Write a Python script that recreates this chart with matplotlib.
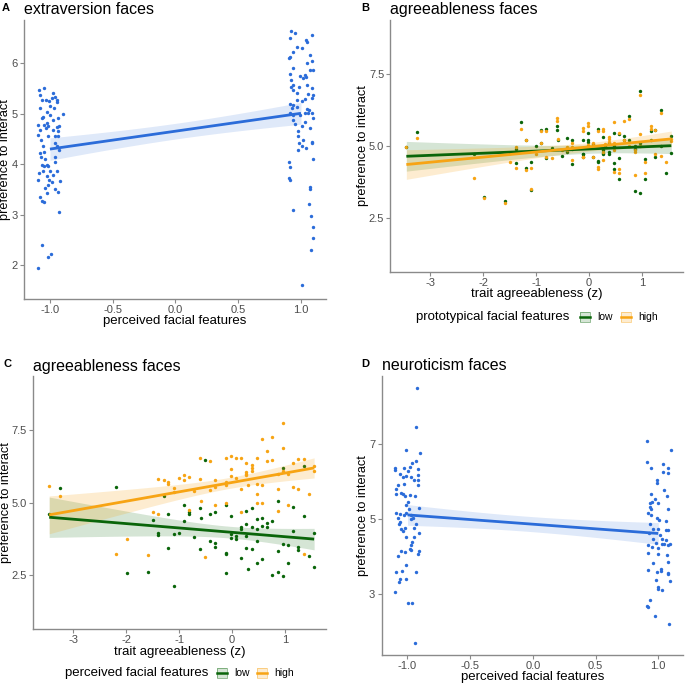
import numpy as np
import matplotlib.pyplot as plt
from matplotlib.patches import Rectangle
from matplotlib.lines import Line2D

plt.rcParams['font.family'] = ['Liberation Sans', 'DejaVu Sans']
plt.rcParams['axes.unicode_minus'] = False

BLUE = '#2b6cd9'
GREEN = '#0a650a'
ORANGE = '#f7a414'
AXC = '#8a8a8a'
TICKC = '#4d4d4d'

# ---- panel A: extraversion faces (x jittered around -1 / +1) ----
a_lo_x = [-1.085, -1.045, -0.973, -1.077, -0.981, -0.960, -0.947, -1.066, -1.035, -1.005,
          -1.000, -0.942, -1.080, -1.021, -0.968, -0.899, -1.053, -1.000, -1.066, -1.027,
          -0.973, -0.934, -1.093, -1.048, -1.013, -0.947, -0.928, -1.080, -1.032, -0.973,
          -0.934, -1.093, -1.072, -1.013, -0.960, -0.934, -1.053, -0.960, -1.080, -1.045,
          -0.947, -0.926, -1.069, -0.960, -1.040, -1.066, -1.027, -1.013, -1.048, -0.960,
          -1.085, -1.053, -1.000, -0.973, -0.942, -1.021, -1.093, -1.005, -0.987, -1.013,
          -0.920, -1.040, -0.960, -0.934, -1.027, -1.080, -1.066, -1.048, -0.926, -1.066,
          -0.995, -1.019, -1.093]
a_lo_y = [5.47, 5.50, 5.41, 5.37, 5.30, 5.32, 5.27, 5.27, 5.27, 5.24,
          5.15, 5.23, 5.10, 5.04, 5.10, 5.00, 4.94, 4.97, 4.91, 4.81,
          4.88, 4.91, 4.78, 4.78, 4.76, 4.74, 4.76, 4.68, 4.71, 4.68,
          4.65, 4.58, 4.48, 4.55, 4.55, 4.55, 4.35, 4.41, 4.22, 4.25,
          4.35, 4.28, 4.15, 4.15, 4.10, 3.99, 3.99, 3.96, 3.96, 4.05,
          3.82, 3.86, 3.86, 3.79, 3.86, 3.76, 3.69, 3.69, 3.64, 3.59,
          3.66, 3.53, 3.51, 3.46, 3.44, 3.36, 3.28, 3.26, 3.05, 2.40,
          2.23, 2.17, 1.95]
a_hi_x = [0.918, 0.952, 1.085, 0.912, 1.040, 1.050, 0.971, 1.005, 0.939, 0.912,
          0.907, 1.072, 1.085, 1.045, 0.939, 1.072, 1.093, 1.032, 0.912, 0.992,
          1.013, 0.918, 1.040, 0.939, 1.045, 0.918, 0.987, 1.085, 0.939, 0.965,
          1.058, 1.098, 0.971, 1.032, 1.005, 0.912, 0.939, 1.085, 0.965, 0.926,
          1.045, 1.064, 0.912, 0.939, 0.992, 1.032, 1.058, 1.085, 1.098, 0.934,
          0.952, 1.032, 1.005, 1.072, 0.973, 0.979, 1.085, 1.019, 0.987, 0.973,
          1.005, 1.085, 1.037, 1.093, 0.907, 0.912, 0.907, 0.912, 1.072, 1.072,
          0.934, 1.066, 1.080, 1.093, 1.093, 1.077, 1.008]
a_hi_y = [6.62, 6.59, 6.55, 6.49, 6.45, 6.42, 6.32, 6.29, 6.22, 6.12,
          6.09, 6.16, 6.03, 5.99, 5.90, 5.85, 5.86, 5.76, 5.78, 5.74,
          5.70, 5.66, 5.72, 5.57, 5.57, 5.52, 5.53, 5.50, 5.47, 5.40,
          5.38, 5.37, 5.27, 5.28, 5.24, 5.19, 5.17, 5.30, 5.13, 5.11,
          5.09, 5.07, 5.02, 4.97, 4.97, 5.02, 5.01, 5.01, 4.91, 4.88,
          4.80, 4.84, 4.76, 4.71, 4.65, 4.56, 4.43, 4.48, 4.42, 4.28,
          4.35, 4.41, 4.32, 4.10, 4.05, 3.95, 3.72, 3.69, 3.55, 3.51,
          3.10, 3.22, 2.98, 2.75, 2.54, 2.31, 1.61]

# ---- panels B and C: same participants (trait agreeableness z) ----
trait_z = [-3.45, -3.25, -2.18, -1.98, -1.59, -1.49, -1.39, -1.39, -1.29, -1.20,
           -1.20, -1.10, -1.10, -1.00, -0.90, -0.90, -0.82, -0.82, -0.71, -0.61,
           -0.61, -0.58, -0.51, -0.41, -0.41, -0.32, -0.32, -0.32, -0.12, -0.12,
           -0.12, -0.12, -0.02, -0.02, -0.02, 0.07, 0.07, 0.17, 0.17, 0.17,
           0.27, 0.27, 0.27, 0.27, 0.30, 0.37, 0.37, 0.37, 0.47, 0.47,
           0.47, 0.47, 0.57, 0.57, 0.57, 0.66, 0.66, 0.76, 0.76, 0.86,
           0.86, 0.86, 0.96, 0.96, 0.96, 1.06, 1.06, 1.16, 1.16, 1.25,
           1.25, 1.35, 1.35, 1.45, 1.55, 1.55]
b_low = [4.97, 5.47, 4.70, 3.22, 3.09, 4.75, 4.41, 4.90, 5.83, 5.22,
         4.22, 4.44, 3.46, 4.98, 5.56, 5.10, 5.60, 4.58, 4.93, 5.68,
         5.56, 5.20, 4.66, 5.27, 4.80, 5.19, 4.37, 4.90, 5.20, 4.73,
         4.60, 4.73, 5.44, 5.22, 5.15, 4.60, 5.05, 5.59, 4.47, 4.45,
         5.30, 4.86, 4.75, 4.70, 5.00, 4.78, 5.10, 4.72, 5.46, 4.42,
         4.20, 5.00, 5.40, 4.57, 3.86, 5.35, 5.20, 6.02, 5.20, 4.98,
         4.90, 3.43, 6.89, 5.10, 3.35, 4.55, 3.86, 5.22, 5.50, 4.60,
         5.55, 6.25, 4.98, 4.05, 5.35, 4.75]
b_high = [4.95, 5.27, 3.87, 3.17, 3.02, 4.45, 4.23, 4.96, 5.60, 5.22,
          4.17, 4.24, 3.50, 4.73, 5.50, 5.10, 5.50, 4.60, 4.57, 5.97,
          5.87, 5.24, 4.87, 4.95, 4.85, 5.10, 4.52, 4.95, 5.62, 5.53,
          4.60, 4.60, 5.79, 5.70, 5.03, 4.62, 5.10, 5.53, 4.25, 4.20,
          5.58, 5.52, 4.50, 4.80, 5.05, 5.30, 5.25, 5.15, 5.83, 4.85,
          4.10, 5.10, 5.45, 4.05, 4.20, 5.85, 5.20, 5.95, 5.00, 4.85,
          4.00, 4.80, 6.78, 5.40, 5.00, 4.45, 4.05, 5.68, 5.58, 4.70,
          5.55, 6.15, 4.65, 4.43, 5.25, 5.17]
c_low = [4.59, 5.51, 5.54, 2.57, 2.59, 4.38, 3.89, 3.95, 5.24, 4.60,
         3.41, 3.92, 2.12, 3.95, 4.93, 4.35, 4.68, 4.60, 3.79, 4.80,
         3.40, 4.45, 6.47, 4.59, 3.68, 4.66, 3.60, 3.45, 4.90, 3.26,
         3.20, 2.57, 4.54, 3.92, 3.77, 3.84, 3.73, 4.14, 3.07, 4.10,
         4.70, 4.26, 3.84, 3.42, 2.70, 4.80, 4.14, 3.38, 4.44, 4.10,
         3.65, 2.90, 4.46, 3.05, 4.20, 4.28, 4.14, 4.36, 2.50, 5.05,
         3.32, 2.58, 6.19, 3.55, 2.45, 3.52, 2.92, 4.83, 4.02, 3.45,
         3.36, 6.27, 4.53, 3.16, 3.96, 2.77]
c_high = [5.58, 5.22, 3.23, 3.73, 3.19, 4.68, 4.60, 5.82, 5.77, 5.70,
          5.65, 5.52, 5.35, 5.85, 5.96, 5.77, 5.87, 4.75, 5.40, 6.54,
          5.82, 5.05, 3.11, 6.45, 5.43, 5.78, 5.55, 4.92, 6.54, 5.70,
          5.60, 4.98, 6.63, 6.16, 5.93, 6.54, 5.85, 6.56, 5.47, 4.68,
          6.36, 6.07, 6.00, 5.95, 5.60, 6.30, 6.20, 6.10, 6.54, 5.66,
          5.00, 5.30, 7.21, 5.60, 4.98, 6.77, 6.45, 7.26, 6.47, 6.00,
          5.47, 4.70, 7.75, 6.88, 6.10, 4.90, 6.00, 6.36, 5.55, 6.50,
          5.48, 6.52, 3.22, 5.31, 6.27, 6.09]

# ---- panel D: neuroticism faces ----
d_lo_x = [-0.928, -0.934, -1.013, -0.902, -0.934, -0.963, -1.101, -1.027, -0.981, -0.920,
          -1.101, -1.061, -0.995, -1.035, -1.013, -0.973, -0.915, -0.947, -0.915, -1.074,
          -1.027, -0.915, -1.088, -1.048, -1.035, -1.093, -0.981, -1.016, -0.941, -0.995,
          -1.008, -0.987, -0.910, -1.088, -1.061, -1.027, -1.008, -0.973, -1.074, -0.955,
          -1.056, -0.973, -1.069, -0.934, -1.021, -1.048, -1.035, -0.947, -0.910, -0.968,
          -0.976, -0.981, -1.008, -0.949, -1.048, -1.021, -0.973, -0.907, -0.920, -1.074,
          -1.008, -1.088, -1.040, -0.936, -1.061, -1.008, -1.066, -1.096, -0.995, -0.963,
          -0.941]
d_lo_y = [8.50, 7.47, 6.85, 6.78, 6.56, 6.51, 6.38, 6.36, 6.40, 6.33,
          6.31, 6.20, 6.29, 6.13, 6.15, 6.13, 6.18, 6.04, 6.06, 5.91,
          5.94, 5.91, 5.82, 5.70, 5.68, 5.68, 5.64, 5.61, 5.61, 5.46,
          5.37, 5.28, 5.31, 5.17, 5.15, 5.10, 5.17, 5.10, 5.02, 5.02,
          4.93, 5.00, 4.88, 4.88, 4.77, 4.74, 4.68, 4.76, 4.63, 4.39,
          4.30, 4.21, 4.52, 4.52, 4.15, 4.12, 4.17, 4.15, 4.08, 4.01,
          3.77, 3.59, 3.62, 3.59, 3.41, 3.41, 3.32, 3.06, 2.76, 2.76,
          1.68]
d_hi_x = [0.907, 1.098, 0.912, 1.040, 1.080, 0.939, 1.040, 1.080, 0.987, 0.987,
          1.045, 0.941, 1.072, 0.973, 0.934, 0.952, 1.000, 0.934, 0.941, 1.080,
          0.915, 0.939, 0.987, 1.005, 1.059, 0.934, 0.995, 0.960, 1.061, 1.074,
          0.926, 1.013, 1.032, 0.960, 1.059, 0.979, 1.027, 1.048, 1.080, 1.093,
          0.915, 0.952, 1.000, 0.920, 0.995, 1.066, 1.080, 0.960, 0.915, 0.987,
          1.021, 1.021, 1.074, 1.080, 1.093, 0.979, 1.000, 1.000, 1.032, 0.934,
          0.907, 0.920, 0.973, 1.085]
d_hi_y = [7.09, 6.86, 6.53, 6.47, 6.36, 6.38, 6.26, 6.24, 6.06, 5.97,
          5.79, 5.67, 5.63, 5.53, 5.44, 5.45, 5.44, 5.33, 5.26, 5.28,
          5.17, 5.10, 5.02, 4.97, 4.95, 4.86, 4.74, 4.73, 4.72, 4.71,
          4.63, 4.58, 4.47, 4.48, 4.45, 4.37, 4.35, 4.33, 4.31, 4.33,
          4.30, 4.25, 4.24, 4.10, 4.08, 4.03, 3.85, 3.84, 3.64, 3.59,
          3.68, 3.61, 3.56, 3.54, 3.35, 3.38, 3.19, 3.13, 3.10, 2.84,
          2.69, 2.66, 2.42, 2.21]


def lm_band(x, y, xs, t=1.98):
    x = np.asarray(x, float)
    y = np.asarray(y, float)
    n = len(x)
    b1, b0 = np.polyfit(x, y, 1)
    s2 = np.sum((y - (b0 + b1 * x)) ** 2) / (n - 2)
    xbar = x.mean()
    sxx = np.sum((x - xbar) ** 2)
    fit = b0 + b1 * xs
    se = np.sqrt(s2 * (1.0 / n + (xs - xbar) ** 2 / sxx))
    return fit, fit - t * se, fit + t * se


def style(ax):
    for s in ['top', 'right']:
        ax.spines[s].set_visible(False)
    for s in ['left', 'bottom']:
        ax.spines[s].set_color(AXC)
        ax.spines[s].set_linewidth(1.0)
    ax.tick_params(colors=AXC, labelcolor=TICKC, labelsize=8, length=3, width=0.8, pad=1.5)
    ax.set_ylabel('preference to interact', fontsize=9.2, labelpad=0)


def smooth(ax, x, y, color, alpha, group=None):
    xs = np.linspace(min(x), max(x), 100) if group is None else np.linspace(-1, 1, 100)
    xf = x if group is None else group
    fit, lo, hi = lm_band(xf, y, xs)
    ax.fill_between(xs, lo, hi, color=color, alpha=alpha, lw=0, zorder=3)
    ax.plot(xs, fit, color=color, lw=2.0, zorder=4, solid_capstyle='butt')


def px(x, y):
    return x / 685.0, 1 - y / 684.0


fig = plt.figure(figsize=(6.85, 6.84), dpi=100)

axA = fig.add_axes([0.035, 0.563, 0.441, 0.408])
axB = fig.add_axes([0.570, 0.603, 0.427, 0.368])
axC = fig.add_axes([0.0486, 0.081, 0.427, 0.369])
axD = fig.add_axes([0.557, 0.0424, 0.440, 0.408])

# A
axA.scatter(a_lo_x + a_hi_x, a_lo_y + a_hi_y, s=6, color=BLUE, lw=0, zorder=2)
smooth(axA, a_lo_x + a_hi_x, a_lo_y + a_hi_y, BLUE, 0.15,
       group=np.sign(a_lo_x + a_hi_x))
axA.set_xlim(-1.207, 1.2)
axA.set_ylim(1.34, 6.85)
axA.set_xticks([-1.0, -0.5, 0.0, 0.5, 1.0])
axA.set_xticklabels(['-1.0', '-0.5', '0.0', '0.5', '1.0'])
axA.set_yticks([2, 3, 4, 5, 6])
axA.set_xlabel('perceived facial features', fontsize=9.5, labelpad=0)
style(axA)
axA.set_title('extraversion faces', loc='left', fontsize=11.5, pad=4)

# B and C
for ax, lowv, highv in [(axB, b_low, b_high), (axC, c_low, c_high)]:
    ax.scatter(trait_z, lowv, s=6, color=GREEN, lw=0, zorder=2)
    ax.scatter(trait_z, highv, s=6, color=ORANGE, lw=0, zorder=2)
    smooth(ax, trait_z, lowv, GREEN, 0.17)
    smooth(ax, trait_z, highv, ORANGE, 0.2)
    ax.set_xlim(-3.75, 1.77)
    ax.set_ylim(0.63, 9.38)
    ax.set_xticks([-3, -2, -1, 0, 1])
    ax.set_yticks([2.5, 5.0, 7.5])
    ax.set_yticklabels(['2.5', '5.0', '7.5'])
    ax.set_xlabel('trait agreeableness (z)', fontsize=9.5, labelpad=0.5)
    style(ax)
    ax.set_title('agreeableness faces', loc='left', fontsize=11.5, pad=4)

# D
axD.scatter(d_lo_x + d_hi_x, d_lo_y + d_hi_y, s=6, color=BLUE, lw=0, zorder=2)
smooth(axD, d_lo_x + d_hi_x, d_lo_y + d_hi_y, BLUE, 0.15,
       group=np.sign(d_lo_x + d_hi_x))
axD.set_xlim(-1.207, 1.197)
axD.set_ylim(1.37, 8.83)
axD.set_xticks([-1.0, -0.5, 0.0, 0.5, 1.0])
axD.set_xticklabels(['-1.0', '-0.5', '0.0', '0.5', '1.0'])
axD.set_yticks([3, 5, 7])
axD.set_xlabel('perceived facial features', fontsize=9.5, labelpad=-0.5)
style(axD)
axD.set_title('neuroticism faces', loc='left', fontsize=11.5, pad=4)

# panel letters
for lab, (x, y) in [('A', (2, 8)), ('B', (361, 8)), ('C', (3, 364)), ('D', (361, 364))]:
    fig.text(*px(x, y), lab, fontsize=8, fontweight='bold', va='center', ha='left')


def legend_row(title, y, tx, keys):
    fig.text(*px(tx, y), title, fontsize=9.5, va='center', ha='left')
    for kx, color, alpha, lab in keys:
        x0, y0 = px(kx, y + 5)
        w, h = 10 / 685.0, 10 / 684.0
        fig.add_artist(Rectangle((x0, y0), w, h, transform=fig.transFigure,
                                 facecolor=color, alpha=alpha, edgecolor='none'))
        fig.add_artist(Rectangle((x0, y0), w, h, transform=fig.transFigure,
                                 facecolor='none', edgecolor=color, lw=0.6, alpha=0.5))
        xm, ym = px(kx, y)
        fig.add_artist(Line2D([x0, x0 + w], [ym, ym], transform=fig.transFigure,
                              color=color, lw=1.8))
        fig.text(*px(kx + 17, y), lab, fontsize=7.5, va='center', ha='left')


legend_row('prototypical facial features', 317, 416,
           [(580, GREEN, 0.17, 'low'), (621, ORANGE, 0.2, 'high')])
legend_row('perceived facial features', 673, 65,
           [(217, GREEN, 0.17, 'low'), (257, ORANGE, 0.2, 'high')])

fig.savefig('out.png', dpi=100)
